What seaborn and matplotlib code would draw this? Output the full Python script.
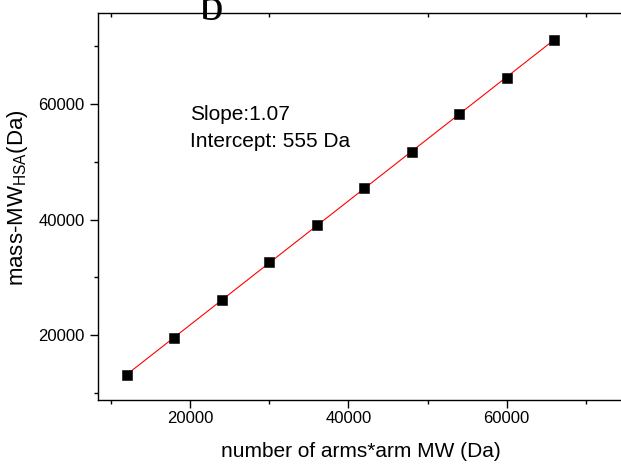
import numpy as np
import pandas as pd
import matplotlib
matplotlib.use('Agg')
import matplotlib.pyplot as plt
import seaborn as sns

# ---- data ----
arm_mw = [12000, 18000, 24000, 30000, 36000, 42000, 48000, 54000, 60000, 66000]
mass_minus_hsa = [13084, 19585, 26052, 32622, 39071, 45520, 51753, 58271, 64547, 71066]
x_major = [20000, 40000, 60000]
x_minor = [10000, 30000, 50000, 70000]
y_major = [20000, 40000, 60000]
y_minor = [10000, 30000, 50000, 70000]
x_label = "number of arms*arm MW (Da)"
y_label = r"mass-MW$_{\mathrm{HSA}}$(Da)"
annotation = "Slope:1.07\nIntercept: 555 Da"
panel_label = "b"

sns.set_theme(style='ticks')
plt.rcParams['font.family'] = ['Liberation Sans', 'DejaVu Sans']
plt.rcParams['mathtext.fontset'] = 'custom'
plt.rcParams['mathtext.rm'] = 'Liberation Sans'
plt.rcParams['mathtext.it'] = 'Liberation Sans:italic'
plt.rcParams['mathtext.bf'] = 'Liberation Sans:bold'

df = pd.DataFrame({'x': arm_mw, 'y': mass_minus_hsa})

fig = plt.figure(figsize=(6.21, 4.65), dpi=100)
ax = fig.add_axes([98 / 621, 65 / 465, 523 / 621, 387 / 465])

sns.regplot(data=df, x='x', y='y', scatter=False, ci=None, truncate=True,
            line_kws=dict(color='#ff0000', lw=0.8), ax=ax)
sns.scatterplot(data=df, x='x', y='y', marker='s', s=42, color='black',
                edgecolor='black', linewidth=0.4, ax=ax, zorder=3, legend=False)

ax.set_xlim(8380, 74436)
ax.set_ylim(8813, 75734)

ax.set_xticks(x_major)
ax.set_xticks(x_minor, minor=True)
ax.set_yticks(y_major)
ax.set_yticks(y_minor, minor=True)
ax.set_xticklabels([str(v) for v in x_major])
ax.set_yticklabels([str(v) for v in y_major])

for s in ['top', 'right']:
    ax.spines[s].set_visible(False)
for s in ['left', 'bottom']:
    ax.spines[s].set_linewidth(1.0)
    ax.spines[s].set_color('black')

ax.tick_params(axis='both', which='major', direction='out', length=5.8, width=1.0,
               color='black', labelsize=12, labelcolor='black')
ax.tick_params(axis='both', which='minor', direction='out', length=2.8, width=1.0,
               color='black')
ax.tick_params(axis='x', which='major', pad=2)
ax.tick_params(axis='y', which='major', pad=4)

sec = ax.secondary_xaxis('top')
sec.set_xticks(x_minor)
sec.set_xticklabels([])
sec.tick_params(axis='x', direction='in', length=3.0, width=1.0, color='black')
sec.spines['top'].set_linewidth(1.0)
sec.spines['top'].set_color('black')

ax.set_xlabel(x_label, fontsize=15, color='black')
ax.set_ylabel(y_label, fontsize=16, color='black')
ax.xaxis.set_label_coords(0.503, -0.1085)
ax.xaxis.label.set_va('top')
ax.yaxis.set_label_coords(-0.13, 0.523)

ax.text(0.176, 0.762, annotation, transform=ax.transAxes, fontsize=15,
        ha='left', va='top', linespacing=1.5, color='black')

fig.text(211 / 621, (465 - 20) / 465, panel_label, fontsize=34,
         family=['Liberation Serif', 'DejaVu Serif'], ha='center', va='baseline',
         color='black', zorder=5)

fig.savefig('out.png', dpi=100)
